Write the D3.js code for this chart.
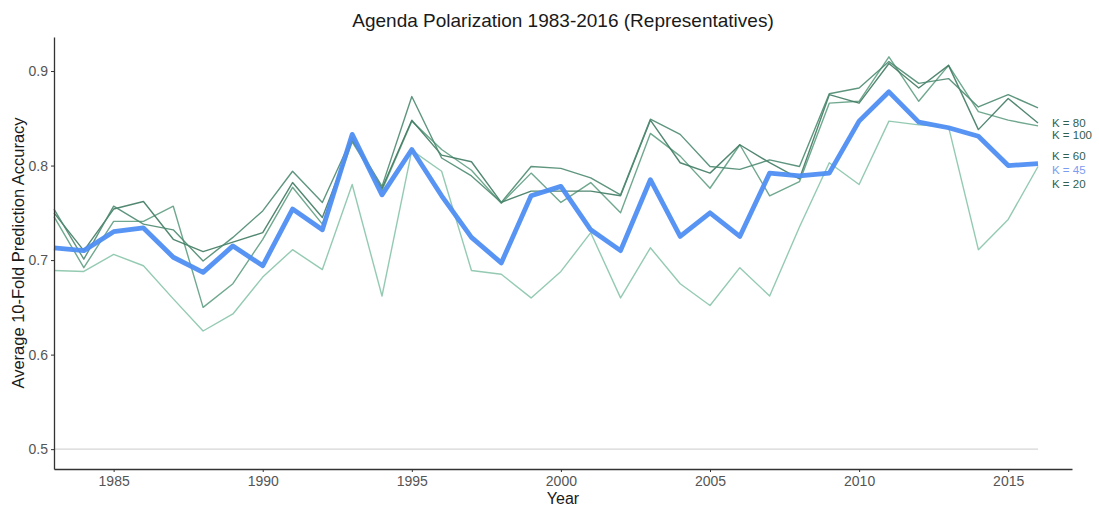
<!DOCTYPE html>
<html>
<head>
<meta charset="utf-8">
<script src="https://cdn.jsdelivr.net/npm/d3@7"></script>
<style>
  body { margin: 0; background: #fff; }
  text { font-family: "Liberation Sans", Arial, sans-serif; }
</style>
</head>
<body>
<svg id="chart" width="1099" height="508"></svg>
<script>
const years = d3.range(1983, 2017);
const yTicks = [0.5, 0.6, 0.7, 0.8, 0.9];
const xTicks = [1985, 1990, 1995, 2000, 2005, 2010, 2015];

const k20 = [0.689,0.688,0.706,0.694,0.659,0.625,0.643,0.682,0.711,0.690,0.780,0.662,0.816,0.794,0.689,0.685,0.660,0.688,0.729,0.660,0.713,0.675,0.652,0.692,0.662,0.735,0.803,0.780,0.847,0.843,0.841,0.711,0.743,0.799];
const k45 = [0.713,0.710,0.730,0.734,0.703,0.687,0.715,0.694,0.754,0.732,0.833,0.769,0.817,0.768,0.724,0.697,0.768,0.778,0.732,0.710,0.785,0.725,0.750,0.725,0.792,0.789,0.792,0.847,0.878,0.846,0.840,0.831,0.800,0.802];
const k60 = [0.746,0.692,0.741,0.741,0.757,0.650,0.675,0.722,0.777,0.738,0.825,0.774,0.847,0.817,0.795,0.760,0.792,0.761,0.782,0.750,0.834,0.810,0.776,0.822,0.768,0.783,0.866,0.868,0.915,0.868,0.906,0.857,0.848,0.842];
const k80 = [0.754,0.701,0.757,0.738,0.732,0.699,0.724,0.752,0.794,0.761,0.830,0.778,0.873,0.808,0.789,0.761,0.799,0.797,0.787,0.769,0.849,0.833,0.799,0.796,0.806,0.799,0.876,0.882,0.910,0.887,0.892,0.862,0.875,0.861];
const k100 = [0.750,0.710,0.754,0.762,0.722,0.709,0.719,0.729,0.782,0.745,0.827,0.776,0.848,0.811,0.804,0.761,0.773,0.773,0.773,0.768,0.848,0.803,0.792,0.822,0.803,0.786,0.875,0.866,0.908,0.882,0.906,0.838,0.871,0.845];

const seriesNames = ["K = 20", "K = 60", "K = 100", "K = 80", "K = 45"];
const seriesValues = [k20, k60, k100, k80, k45];
const seriesColors = ["#88c4aa", "#5f9e82", "#3f7a62", "#4d8a70", "#4f8ef2"];
const seriesWidths = [1.4, 1.4, 1.4, 1.4, 4.8];

const labelNames = ["K = 80", "K = 100", "K = 60", "K = 45", "K = 20"];
const labelAt = [0.845, 0.832, 0.810, 0.795, 0.780];
const labelColors = ["#2f6150", "#2f6150", "#2f6150", "#7b9cf0", "#2f6150"];

const svg = d3.select("#chart");
const mLeft = 54, mRight = 1072, mTop = 37, mBottom = 469;

const x = d3.scaleLinear().domain([1983, 2017.14]).range([mLeft, mRight]);
const y = d3.scaleLinear().domain([0.479, 0.936]).range([mBottom, mTop]);

// reference line at 0.5
svg.append("line")
  .attr("x1", x(1983)).attr("x2", x(2016))
  .attr("y1", y(0.5)).attr("y2", y(0.5))
  .attr("stroke", "#d6d6d6").attr("stroke-width", 1.3);

const line = d3.line().x((d, i) => x(years[i])).y(d => y(d));

seriesValues.forEach((vals, i) => {
  svg.append("path")
    .datum(vals)
    .attr("d", line)
    .attr("fill", "none")
    .attr("stroke", seriesColors[i])
    .attr("stroke-width", seriesWidths[i])
    .attr("stroke-linejoin", "round")
    .attr("opacity", i === 4 ? 0.95 : 0.9);
});

// axes
const xAxis = d3.axisBottom(x).tickValues(xTicks).tickFormat(d3.format("d")).tickSize(3).tickSizeOuter(0);
const yAxis = d3.axisLeft(y).tickValues(yTicks).tickFormat(d3.format(".1f")).tickSize(3).tickSizeOuter(0);

const gx = svg.append("g").attr("transform", `translate(0,${mBottom})`).call(xAxis);
const gy = svg.append("g").attr("transform", `translate(${mLeft},0)`).call(yAxis);

[gx, gy].forEach(g => {
  g.select(".domain").attr("stroke", "#333").attr("stroke-width", 1.3);
  g.selectAll(".tick line").attr("stroke", "#333");
  g.selectAll(".tick text").attr("fill", "#555").style("font-size", "14px")
    .style("font-family", "Liberation Sans, Arial, sans-serif");
});
gx.selectAll(".tick text").attr("dy", "0.8em");
gy.selectAll(".tick text").attr("x", -6);

// labels at right
labelNames.forEach((n, i) => {
  svg.append("text")
    .attr("x", 1052).attr("y", y(labelAt[i]))
    .attr("dy", "0.35em")
    .attr("fill", labelColors[i])
    .style("font-size", "11.5px")
    .text(n);
});

// title and axis titles
svg.append("text")
  .attr("x", (mLeft + mRight) / 2).attr("y", 27)
  .attr("text-anchor", "middle")
  .attr("fill", "#1a1a1a")
  .style("font-size", "19px")
  .text("Agenda Polarization 1983-2016 (Representatives)");

svg.append("text")
  .attr("x", (mLeft + mRight) / 2).attr("y", 504)
  .attr("text-anchor", "middle")
  .attr("fill", "#1a1a1a")
  .style("font-size", "16px")
  .text("Year");

svg.append("text")
  .attr("transform", `translate(24,${(mTop + mBottom) / 2}) rotate(-90)`)
  .attr("text-anchor", "middle")
  .attr("fill", "#1a1a1a")
  .style("font-size", "16.5px")
  .text("Average 10-Fold Prediction Accuracy");
</script>
</body>
</html>
